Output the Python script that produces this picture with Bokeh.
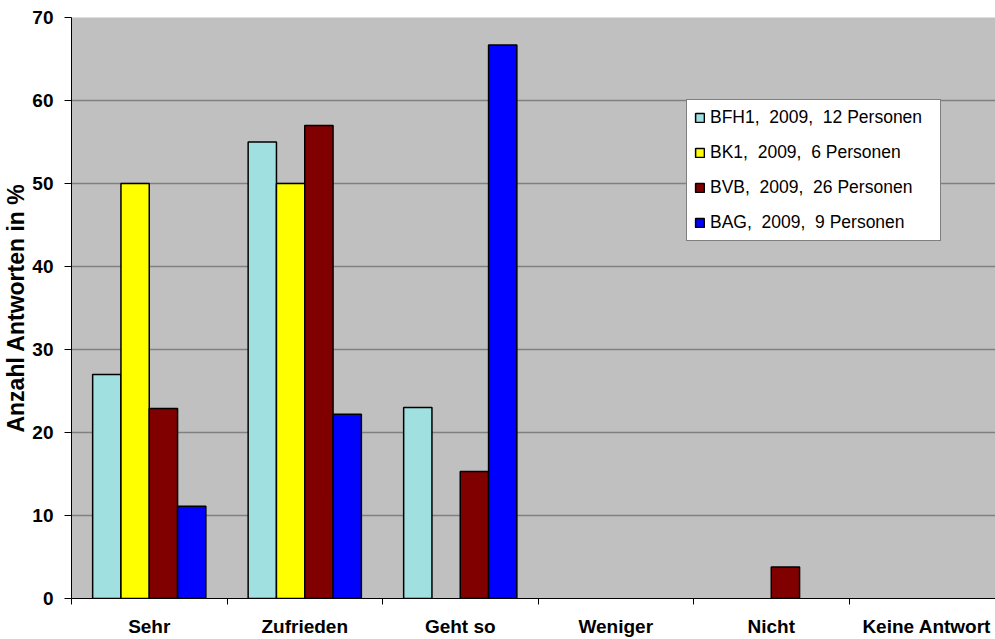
from bokeh.plotting import figure
from bokeh.models import Range1d, FixedTicker, Legend, LegendItem
from bokeh.embed import file_html
from bokeh.resources import INLINE

categories = ["Sehr", "Zufrieden", "Geht so", "Weniger", "Nicht", "Keine Antwort"]
series_names = ["BFH1,  2009,  12 Personen", "BK1,  2009,  6 Personen",
                "BVB,  2009,  26 Personen", "BAG,  2009,  9 Personen"]
bfh1 = [27.0, 55.0, 23.0, 0, 0, 0]
bk1 = [50.0, 50.0, 0, 0, 0, 0]
bvb = [22.9, 57.0, 15.3, 0, 3.8, 0]
bag = [11.1, 22.2, 66.7, 0, 0, 0]
colors = ["#A0E0E0", "#FFFF00", "#800000", "#0000FF"]
y_ticks = [0, 10, 20, 30, 40, 50, 60, 70]

series = [bfh1, bk1, bvb, bag]
offsets = [-0.273, -0.091, 0.091, 0.273]
bar_w = 0.182

p = figure(width=995, height=639, output_backend="svg", toolbar_location=None,
           x_range=Range1d(0, 5.942), y_range=Range1d(0, 70),
           min_border_left=70, min_border_right=0, min_border_top=17, min_border_bottom=40)
p.background_fill_color = "#C0C0C0"
p.border_fill_color = "white"
p.outline_line_color = None

items = []
for name, vals, col, off in zip(series_names, series, colors, offsets):
    xs = [i + 0.5 + off for i, v in enumerate(vals) if v > 0]
    tops = [v for v in vals if v > 0]
    r = p.vbar(x=xs, top=tops, width=bar_w, bottom=0, fill_color=col,
               line_color="black", line_width=1.5)
    items.append(LegendItem(label=name, renderers=[r]))

# axes
p.xaxis.ticker = FixedTicker(ticks=[i + 0.5 for i in range(len(categories))],
                             minor_ticks=list(range(len(categories) + 1)))
p.xaxis.major_label_overrides = {i + 0.5: c for i, c in enumerate(categories)}
p.xaxis.major_tick_line_color = None
p.xaxis.major_tick_out = 6
p.xaxis.major_tick_in = 0
p.xaxis.minor_tick_out = 6
p.xaxis.minor_tick_in = 0
p.xaxis.minor_tick_line_color = "black"
p.xaxis.major_label_standoff = 11
p.xaxis.major_label_text_font = "Liberation Sans"
p.xaxis.major_label_text_font_style = "bold"
p.xaxis.major_label_text_font_size = "19px"
p.xaxis.major_label_text_color = "black"
p.xaxis.axis_line_color = "black"

p.yaxis.ticker = FixedTicker(ticks=y_ticks, minor_ticks=[])
p.yaxis.major_tick_out = 7
p.yaxis.major_tick_in = 0
p.yaxis.major_tick_line_color = "black"
p.yaxis.major_label_standoff = 11
p.yaxis.major_label_text_font = "Liberation Sans"
p.yaxis.major_label_text_font_style = "bold"
p.yaxis.major_label_text_font_size = "19px"
p.yaxis.major_label_text_color = "black"
p.yaxis.axis_line_color = "black"
p.yaxis.axis_label = "Anzahl Antworten in %"
p.yaxis.axis_label_text_font = "Liberation Sans"
p.yaxis.axis_label_text_font_style = "bold"
p.yaxis.axis_label_text_font_size = "23px"
p.yaxis.axis_label_text_color = "black"
p.yaxis.axis_label_standoff = 0

p.xgrid.grid_line_color = None
p.ygrid.grid_line_color = "#808080"
p.ygrid.grid_line_width = 1.5
p.ygrid.ticker = FixedTicker(ticks=y_ticks)

legend = Legend(items=items, location=(615, 357))
legend.background_fill_color = "white"
legend.background_fill_alpha = 1.0
legend.border_line_color = "black"
legend.border_line_width = 1
legend.label_text_font = "Liberation Sans"
legend.label_text_font_size = "17.5px"
legend.label_text_color = "black"
legend.glyph_width = 11
legend.glyph_height = 11
legend.label_height = 20
legend.label_width = 223
legend.label_standoff = 5
legend.spacing = 14
legend.padding = 7
legend.margin = 0
p.add_layout(legend, "center")

open("out.html", "w").write(file_html(p, INLINE))
